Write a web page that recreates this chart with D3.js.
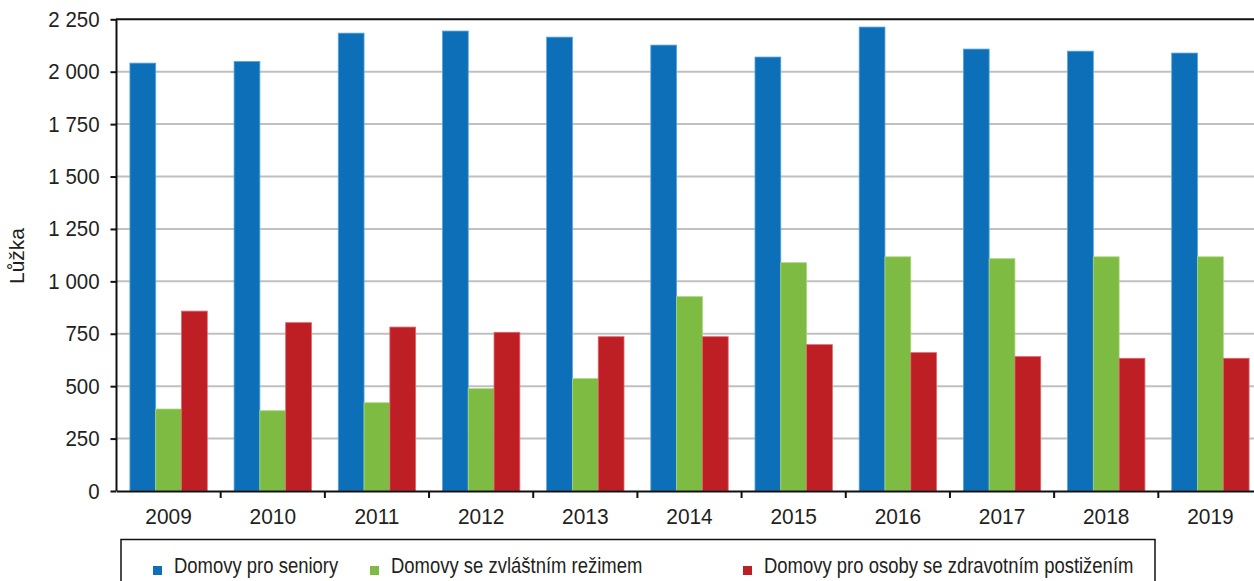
<!DOCTYPE html>
<html>
<head>
<meta charset="utf-8">
<script src="https://cdn.jsdelivr.net/npm/d3@7"></script>
<style>
  html, body { margin: 0; padding: 0; background: #fff; }
  svg { display: block; }
  text { font-family: "Liberation Sans", Arial, sans-serif; fill: #231f20; }
</style>
</head>
<body>
<svg id="chart" width="1254" height="581"></svg>
<script>
const years = ["2009","2010","2011","2012","2013","2014","2015","2016","2017","2018","2019"];
const seriesNames = ["Domovy pro seniory", "Domovy se zvláštním režimem", "Domovy pro osoby se zdravotním postižením"];
const seniory   = [2041, 2049, 2184, 2194, 2165, 2127, 2070, 2213, 2108, 2098, 2089];
const rezim     = [391, 383, 421, 488, 536, 927, 1089, 1117, 1108, 1117, 1117];
const postizeni = [858, 803, 782, 757, 736, 736, 698, 660, 641, 633, 633];
const yTicks = [0, 250, 500, 750, 1000, 1250, 1500, 1750, 2000, 2250];
const colors = ["#0d6fb8", "#7dbb42", "#bd1f25"];
const strokes = ["#5aa5dc", "#a9d67e", "#e0686c"];

const svg = d3.select("#chart");
const x0 = d3.scaleBand().domain(years).range([116.5, 1262.5]).padding(0);
const x1 = d3.scaleBand().domain(seriesNames).range([13.4, x0.bandwidth() - 13.4]).padding(0);
const y = d3.scaleLinear().domain([0, 2250]).range([491, 19.3]);

// gridlines
svg.append("g").selectAll("line").data(yTicks.filter(d => d > 0 && d < 2250)).join("line")
  .attr("x1", 117).attr("x2", 1254)
  .attr("y1", d => y(d)).attr("y2", d => y(d))
  .attr("stroke", "#c0c0c0").attr("stroke-width", 2);

// top border
svg.append("line").attr("x1", 116).attr("x2", 1254).attr("y1", y(2250)).attr("y2", y(2250))
  .attr("stroke", "#111").attr("stroke-width", 2);

// bars
const data = [seniory, rezim, postizeni];
const groups = svg.append("g").selectAll("g").data(years).join("g")
  .attr("transform", d => `translate(${x0(d)},0)`);
groups.selectAll("rect").data((d, i) => seriesNames.map((s, k) => ({s, k, v: data[k][i]}))).join("rect")
  .attr("x", d => x1(d.s))
  .attr("width", x1.bandwidth())
  .attr("y", d => y(d.v))
  .attr("height", d => y(0) - y(d.v))
  .attr("fill", d => colors[d.k])
  .attr("stroke", d => strokes[d.k])
  .attr("stroke-width", 0.8);

// y axis
const yAxis = d3.axisLeft(y).tickValues(yTicks).tickSize(6).tickPadding(11)
  .tickFormat(d => d3.format(",")(d).replace(/,/g, "\u00a0"));
const gy = svg.append("g").attr("transform", "translate(116.5,0)").call(yAxis);
gy.select(".domain").attr("stroke", "#111").attr("stroke-width", 2).attr("d", `M0,${y(2250)}V${y(0)}`);
gy.selectAll(".tick line").attr("stroke", "#111").attr("stroke-width", 2);
gy.selectAll(".tick text").attr("font-size", 22).attr("fill", "#231f20")
  .style("font-family", "'Liberation Sans', Arial, sans-serif")
  .attr("transform", "translate(-17,0) scale(0.93,1) translate(17,0)");

// x axis
const xAxis = d3.axisBottom(x0).tickSize(0).tickPadding(17);
const gx = svg.append("g").attr("transform", `translate(0,${y(0)})`).call(xAxis);
gx.select(".domain").attr("stroke", "#111").attr("stroke-width", 2);
gx.selectAll(".tick text").attr("font-size", 22).attr("fill", "#231f20")
  .style("font-family", "'Liberation Sans', Arial, sans-serif")
  .attr("transform", "scale(0.95,1)");
// tick marks at category boundaries
svg.append("g").selectAll("line").data(years.slice(1)).join("line")
  .attr("x1", d => x0(d)).attr("x2", d => x0(d))
  .attr("y1", y(0)).attr("y2", y(0) + 7)
  .attr("stroke", "#111").attr("stroke-width", 2);

// y label
svg.append("text").attr("transform", "translate(24,256) rotate(-90)")
  .attr("text-anchor", "middle").attr("font-size", 21).text("Lůžka");

// legend
svg.append("rect").attr("x", 121).attr("y", 539.5).attr("width", 1034).attr("height", 60)
  .attr("fill", "none").attr("stroke", "#111").attr("stroke-width", 1.5);
const legX = [153, 370, 743];
const leg = svg.append("g").selectAll("g").data(seriesNames).join("g")
  .attr("transform", (d, i) => `translate(${legX[i]},0)`);
leg.append("rect").attr("x", 0).attr("y", 566).attr("width", 9).attr("height", 9)
  .attr("fill", (d, i) => colors[i]);
leg.append("text").attr("transform", "translate(21,573) scale(0.84,1)").attr("font-size", 22)
  .text(d => d);
</script>
</body>
</html>
